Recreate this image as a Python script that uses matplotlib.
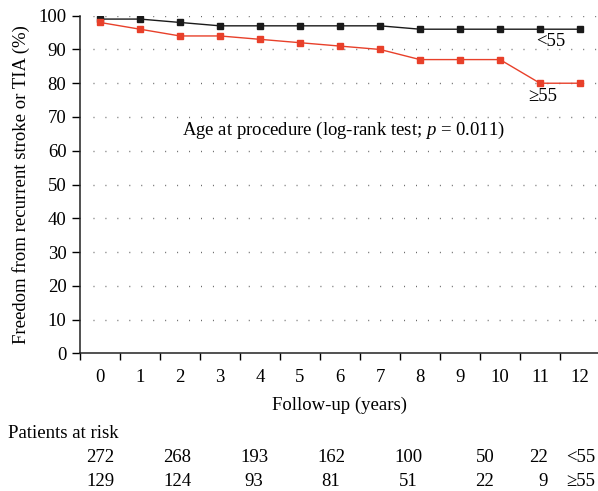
import matplotlib.pyplot as plt
from matplotlib.ticker import FixedLocator, NullFormatter

plt.rcParams['font.family'] = ['Liberation Serif', 'DejaVu Serif']
plt.rcParams['mathtext.fontset'] = 'custom'
plt.rcParams['mathtext.rm'] = 'Liberation Serif'
plt.rcParams['mathtext.it'] = 'Liberation Serif:italic'

years = list(range(13))
under55 = [99, 99, 98, 97, 97, 97, 97, 97, 96, 96, 96, 96, 96]
over55 = [98, 96, 94, 94, 93, 92, 91, 90, 87, 87, 87, 80, 80]

risk_years = [0, 2, 4, 6, 8, 10, 12]
risk_under55 = [272, 268, 193, 162, 100, 50, 22]
risk_over55 = [129, 124, 93, 81, 51, 22, 9]
group_labels = ['<55', '\u226555']

W, H = 598, 491
fig = plt.figure(figsize=(W / 100, H / 100), dpi=100)
# axes: x=-0.5 at px 80, 40 px per year; y 0..100 from px 353.3 to 15.7
ax = fig.add_axes([80 / W, (H - 353.3) / H, 518 / W, 337.6 / H])

for yv in range(10, 101, 10):
    ax.hlines(yv, -0.18, 12.45, color='#666666', lw=1.0,
              linestyles=[(0, (0.7, 7.9))], zorder=0)

ax.plot(years, under55, color='#1a1a1a', lw=1.0, marker='s', ms=4.5, zorder=3)
ax.plot(years, over55, color='#e8402a', lw=1.0, marker='s', ms=4.5, zorder=3)

ax.set_xlim(-0.5, 12.45)
ax.set_ylim(0, 100)
ax.set_yticks(range(0, 101, 10))
ax.xaxis.set_major_locator(FixedLocator([x - 0.5 for x in range(13)]))
ax.xaxis.set_major_formatter(NullFormatter())
ax.xaxis.set_minor_locator(FixedLocator(years))
ax.set_xticklabels([str(y) for y in years], minor=True)
ax.tick_params(axis='x', which='major', direction='out', length=5, width=1)
ax.tick_params(axis='x', which='minor', length=0, pad=11, labelsize=13.5)
ax.tick_params(axis='y', direction='out', length=5.8, width=1, labelsize=13.5, pad=4)

for s in ['top', 'right']:
    ax.spines[s].set_visible(False)
for s in ['left', 'bottom']:
    ax.spines[s].set_linewidth(1.1)
    ax.spines[s].set_color('#222222')

ax.set_xlabel('Follow-up (years)', fontsize=13.5, labelpad=8)
ax.set_ylabel('Freedom from recurrent stroke or TIA (%)', fontsize=13.5, labelpad=6)

ax.text(6.1, 66.1, 'Age at procedure (log-rank test; $p$ = 0.011)',
        fontsize=13.5, ha='center', va='center')
ax.text(11.27, 92.3, group_labels[0], fontsize=13.5, ha='center', va='center')
ax.text(11.08, 76.2, group_labels[1], fontsize=13.5, ha='center', va='center')


def fig_x(xdata):
    xd = ax.transData.transform((xdata, 0))[0]
    return fig.transFigure.inverted().transform((xd, 0))[0]


# patients at risk table (columns spaced a little under 2 years apart)
fig.text(8 / W, 1 - 433 / H, 'Patients at risk', fontsize=13.5, ha='left', va='center')
col_step = 1.925
for row, (vals, lab) in enumerate([(risk_under55, group_labels[0]),
                                   (risk_over55, group_labels[1])]):
    yf = 1 - (458 + 24 * row) / H
    for i, n in enumerate(vals):
        if i == len(vals) - 1:
            fig.text(fig_x(11.2), yf, str(n), fontsize=13.5, ha='right', va='center')
        else:
            fig.text(fig_x(i * col_step), yf, str(n), fontsize=13.5,
                     ha='center', va='center')
    fig.text(fig_x(11.66), yf, lab, fontsize=13.5, ha='left', va='center')

fig.savefig('out.png', dpi=100)
